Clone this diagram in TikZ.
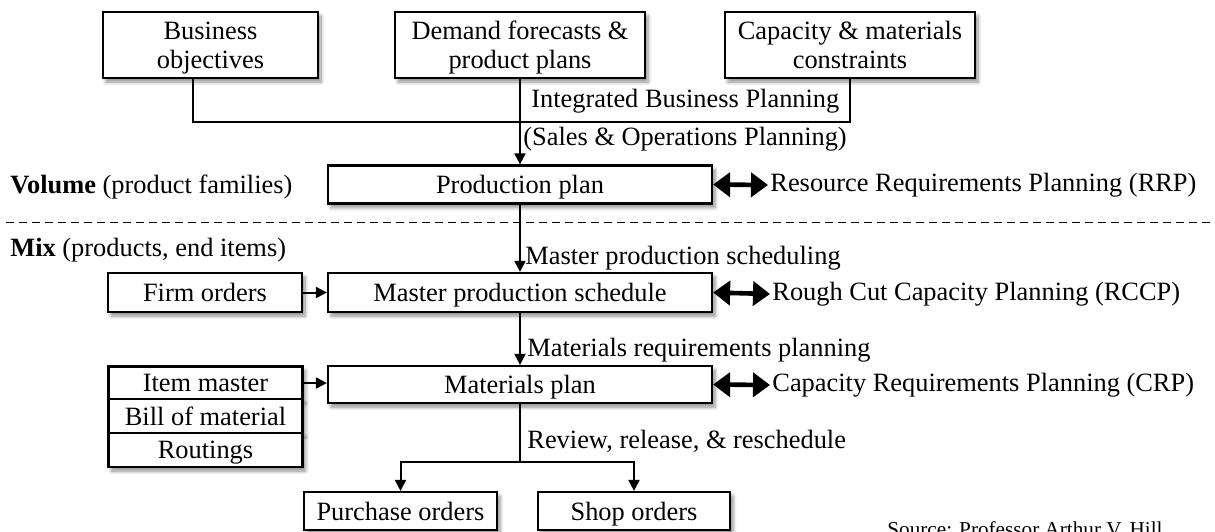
\documentclass[tikz,border=0pt]{standalone}
\usepackage{fontspec}
\setmainfont{Liberation Serif}
\usepackage{tikz}
\usetikzlibrary{positioning,arrows.meta,shadows.blur}

\begin{document}
\begin{tikzpicture}[x=0.5pt,y=-0.5pt,
        font=\fontsize{13.2}{14.5}\selectfont,
        box/.style={draw,line width=1.1pt,fill=white,inner sep=0pt,align=center,
            text depth=0pt,
            blur shadow={shadow xshift=1.5pt,shadow yshift=-2pt,shadow blur steps=6,shadow opacity=45}},
        link/.style={line width=1pt},
        arr/.style={line width=1pt,-{Triangle[length=5.5pt,width=5.5pt]}},
        dblarr/.style={line width=2.3pt,{Triangle[length=8.5pt,width=12pt]}-{Triangle[length=8.5pt,width=12pt]}},
        lbl/.style={inner sep=1pt,anchor=west}]
        \useasboundingbox (0,0) rectangle (1215,531);

        % Top inputs
        \node[box,minimum width=107.5pt,minimum height=33pt] (biz) at (210.5,45) {Business\\objectives};
        \node[box,minimum width=125pt,minimum height=33pt] (dem) at (520,45) {Demand forecasts \&\\product plans};
        \node[box,minimum width=125pt,minimum height=33pt] (cap) at (850,45) {Capacity \& materials\\constraints};

        % Planning levels
        \node[box,minimum width=192pt,minimum height=19pt] (prod) at (520,184.5) {Production plan};
        \node[box,minimum width=192pt,minimum height=19.5pt] (mps) at (520,292.5) {Master production schedule};
        \node[box,minimum width=192pt,minimum height=18.5pt] (mat) at (520,384.5) {Materials plan};

        % Side inputs
        \node[box,minimum width=97pt,minimum height=19.5pt] (firm) at (205,292.5) {Firm orders};
        \node[box,minimum width=97pt,minimum height=16.5pt] (item) at (205.5,383) {Item master};
        \node[box,minimum width=97pt,minimum height=17pt] (bom) at (205.5,416) {Bill of material};
        \node[box,minimum width=97pt,minimum height=17pt] (rout) at (205.5,450) {Routings};

        % Orders
        \node[box,minimum width=96.5pt,minimum height=19pt] (purch) at (400.5,511) {Purchase orders};
        \node[box,minimum width=96pt,minimum height=19pt] (shop) at (634,511) {Shop orders};

        % Capacity checks
        \node[lbl] (rrp) at (768,185) {Resource Requirements Planning (RRP)};
        \node[lbl] (rccp) at (770,294) {Rough Cut Capacity Planning (RCCP)};
        \node[lbl] (crp) at (770,385) {Capacity Requirements Planning (CRP)};

        % Process labels
        \node[lbl] (ibp) at (529,101) {Integrated Business Planning};
        \node[lbl] (sop) at (521,139) {(Sales \& Operations Planning)};
        \node[lbl] (mpsl) at (523,258) {Master production scheduling};
        \node[lbl] (mrpl) at (525,350) {Materials requirements planning};
        \node[lbl] (revl) at (525,441) {Review, release, \& reschedule};

        % Volume / mix split
        \node[lbl] (vol) at (8,187) {\textbf{Volume} (product families)};
        \node[lbl] (mix) at (8,250) {\textbf{Mix} (products, end items)};
        \coordinate (dashl) at (6,222);
        \coordinate (dashr) at (1215,222);
        \draw[line width=0.5pt,dash pattern=on 4pt off 2.5pt] (dashl) -- (dashr);

        % Connectors
        \coordinate (join) at (520,122);
        \draw[link] ([xshift=-8.75pt]biz.south) |- (join) -| (cap.south);
        \draw[arr] (dem.south) -- (prod.north);
        \draw[arr] (prod.south) -- (mps.north);
        \draw[arr] (mps.south) -- (mat.north);
        \draw[arr] (firm.east) -- (mps.west);
        \draw[arr] (item.east) -- (item.east -| mat.west);
        \coordinate (split) at (520,462);
        \draw[link] (mat.south) -- (split);
        \draw[arr] (split) -| (purch.north);
        \draw[arr] (split) -| (shop.north);

        \draw[dblarr] (prod.east) -- (rrp.west);
        \draw[dblarr] (mps.east) -- (rccp.west);
        \draw[dblarr] (mat.east) -- (crp.west);

        % Source note (cut at the page edge)
        \node[inner sep=0pt,anchor=base west,font=\fontsize{10.6}{12}\selectfont] (src) at (887,536) {Source: Professor Arthur V. Hill};
    \end{tikzpicture}
\end{document}
